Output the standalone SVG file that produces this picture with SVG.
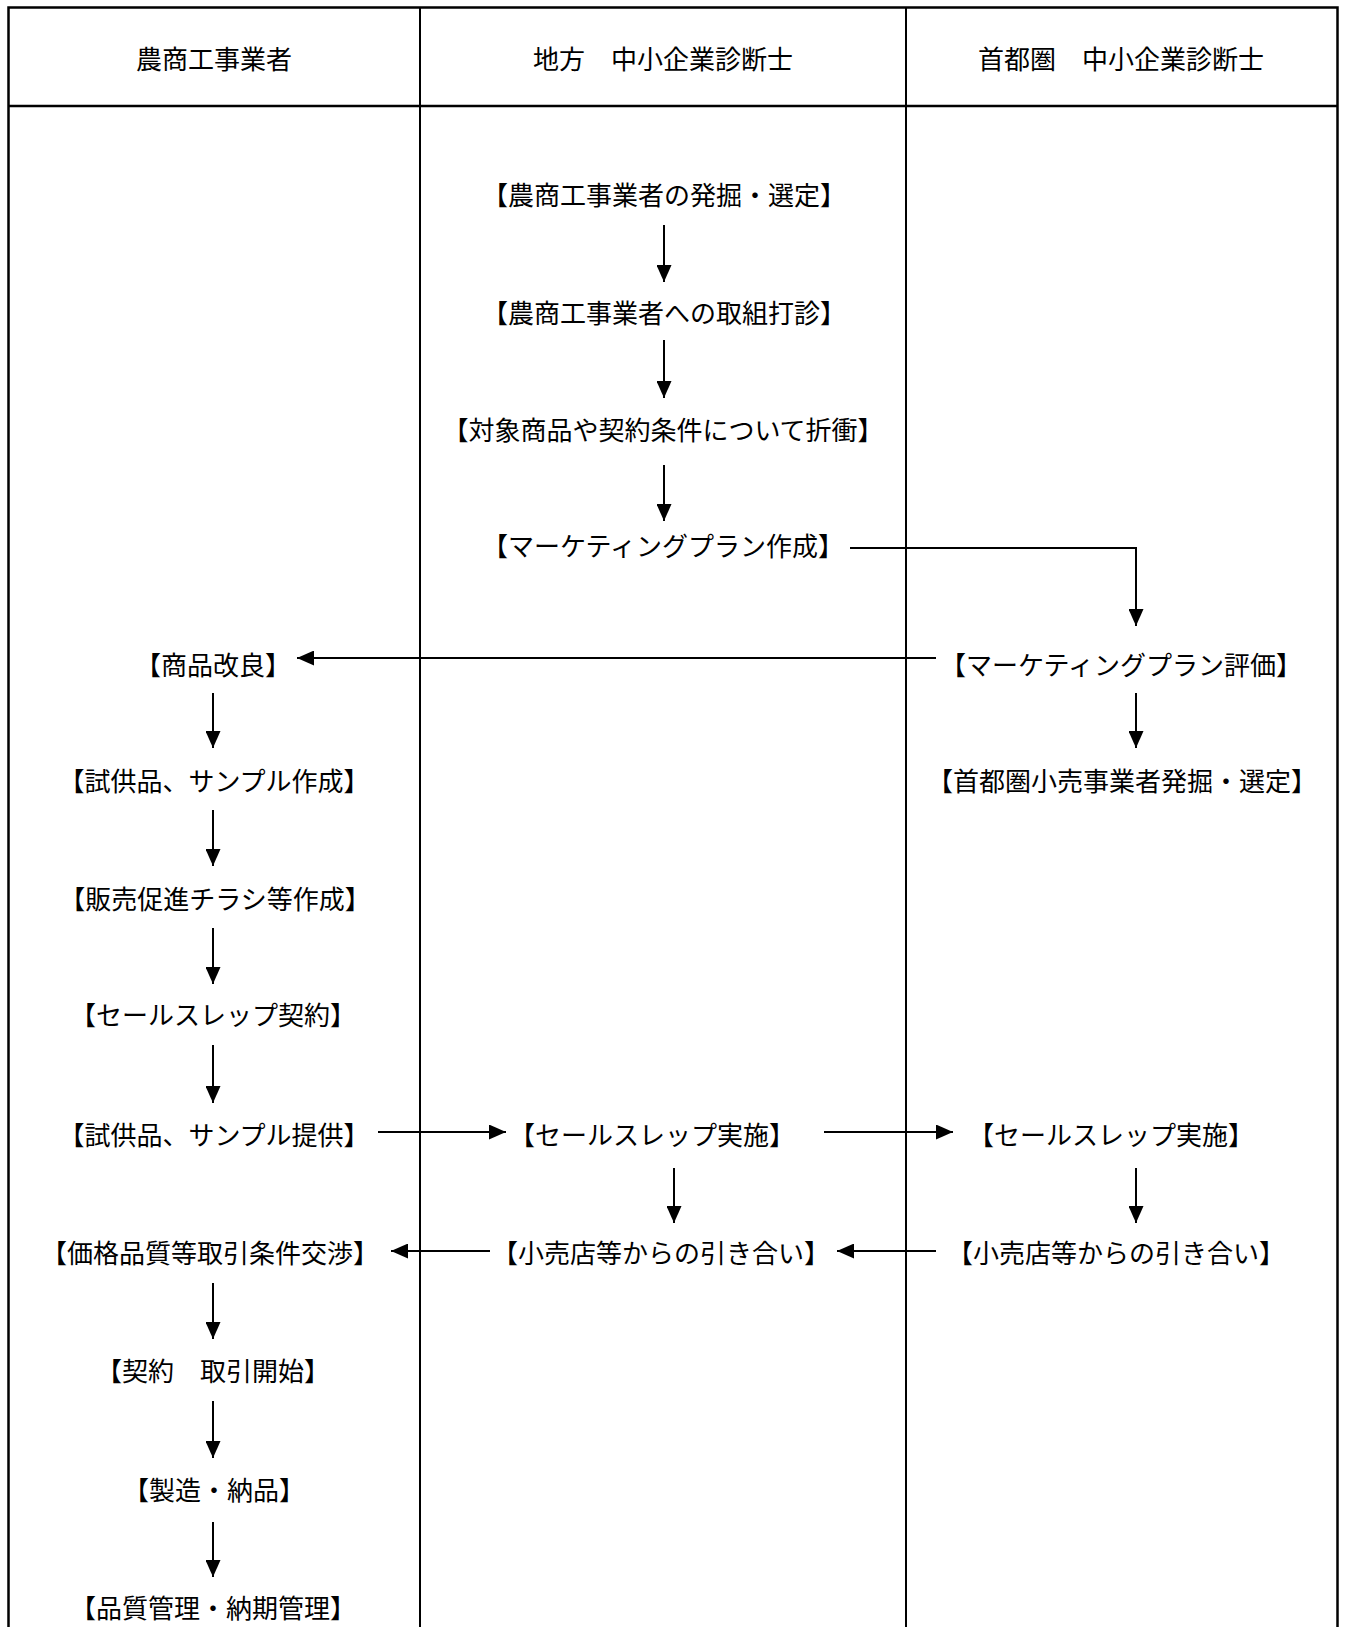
<svg xmlns="http://www.w3.org/2000/svg" width="1346" height="1627" viewBox="0 0 1346 1627">
<style>
.frame{stroke:#000;stroke-width:2.5;fill:none}
.div{stroke:#000;stroke-width:2;fill:none}
.t{font-family:"Noto Sans CJK JP","Noto Sans CJK SC",sans-serif;font-size:26px;fill:#000;text-anchor:middle;dominant-baseline:central}
.h{font-family:"Noto Sans CJK JP","Noto Sans CJK SC",sans-serif;font-size:26px;fill:#000;text-anchor:middle;dominant-baseline:central}
.c{stroke:#000;stroke-width:2;fill:none;marker-end:url(#ah)}
</style>
<defs>
<marker id="ah" markerUnits="userSpaceOnUse" markerWidth="17" markerHeight="15" viewBox="0 0 17 15" refX="17" refY="7.5" orient="auto">
<path d="M0,0 L17,7.5 L0,15 Z" fill="#000"/>
</marker>
</defs>
<rect width="1346" height="1627" fill="#fff"/>
<g id="table">
<path class="frame" d="M8.5,1627 V7.5 H1337.5 V1627"/>
<path class="frame" d="M8.5,106 H1337.5"/>
<path class="div" d="M420,7.5 V1627 M906,7.5 V1627"/>
</g>
<g id="headers">
<text id="h1" class="h" x="214" y="57">農商工事業者</text>
<text id="h2" class="h" x="663" y="57">地方　中小企業診断士</text>
<text id="h3" class="h" x="1121" y="57">首都圏　中小企業診断士</text>
</g>
<g id="connectors">
<path class="c" d="M664,225 V282"/>
<path class="c" d="M664,340 V398"/>
<path class="c" d="M664,465 V521"/>
<path class="c" d="M850,548 H1136 V626"/>
<path class="c" d="M936,658 H297"/>
<path class="c" d="M1136,693 V748"/>
<path class="c" d="M213,693 V748"/>
<path class="c" d="M213,810 V866"/>
<path class="c" d="M213,928 V984"/>
<path class="c" d="M213,1045 V1103"/>
<path class="c" d="M378,1132 H506"/>
<path class="c" d="M824,1132 H953"/>
<path class="c" d="M674,1168 V1223"/>
<path class="c" d="M1136,1168 V1223"/>
<path class="c" d="M490,1251 H391"/>
<path class="c" d="M936,1251 H837"/>
<path class="c" d="M213,1283 V1339"/>
<path class="c" d="M213,1401 V1458"/>
<path class="c" d="M213,1522 V1577"/>
</g>
<g id="n1"><text class="t" x="664" y="193">【農商工事業者の発掘・選定】</text></g>
<g id="n2"><text class="t" x="664" y="311">【農商工事業者への取組打診】</text></g>
<g id="n3"><text class="t" x="663" y="428">【対象商品や契約条件について折衝】</text></g>
<g id="n4"><text class="t" x="663" y="544">【マーケティングプラン作成】</text></g>
<g id="n5"><text class="t" x="1121" y="663">【マーケティングプラン評価】</text></g>
<g id="n6"><text class="t" x="1122" y="779">【首都圏小売事業者発掘・選定】</text></g>
<g id="n7"><text class="t" x="213" y="663">【商品改良】</text></g>
<g id="n8"><text class="t" x="214" y="779">【試供品、サンプル作成】</text></g>
<g id="n9"><text class="t" x="215" y="897">【販売促進チラシ等作成】</text></g>
<g id="n10"><text class="t" x="213" y="1013">【セールスレップ契約】</text></g>
<g id="n11"><text class="t" x="214" y="1133">【試供品、サンプル提供】</text></g>
<g id="n12"><text class="t" x="652" y="1133">【セールスレップ実施】</text></g>
<g id="n13"><text class="t" x="1111" y="1133">【セールスレップ実施】</text></g>
<g id="n14"><text class="t" x="210" y="1251">【価格品質等取引条件交渉】</text></g>
<g id="n15"><text class="t" x="661" y="1251">【小売店等からの引き合い】</text></g>
<g id="n16"><text class="t" x="1116" y="1251">【小売店等からの引き合い】</text></g>
<g id="n17"><text class="t" x="213" y="1369">【契約　取引開始】</text></g>
<g id="n18"><text class="t" x="214" y="1488">【製造・納品】</text></g>
<g id="n19"><text class="t" x="213" y="1606">【品質管理・納期管理】</text></g>
</svg>
